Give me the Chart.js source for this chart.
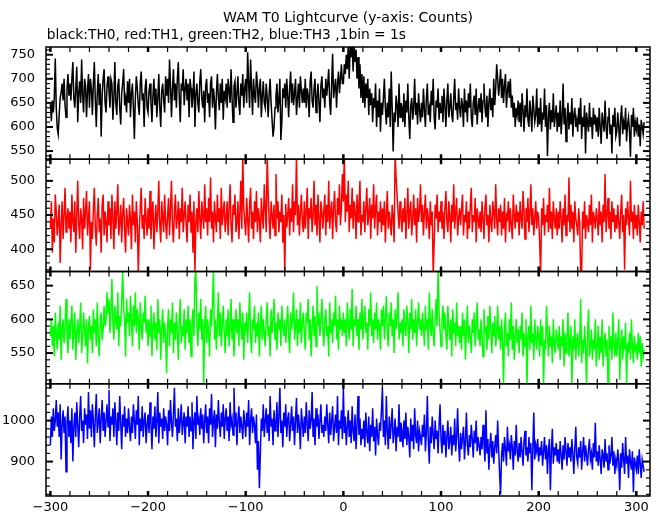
<!DOCTYPE html>
<html><head><meta charset="utf-8">
<script src="https://cdn.jsdelivr.net/npm/chart.js@4.4.1/dist/chart.umd.min.js"></script>
<style>html,body{margin:0;padding:0;background:#fff;}canvas{display:block;}</style>
</head><body>
<canvas id="c" width="661" height="515"></canvas>
<script>
const titleText = 'WAM T0 Lightcurve (y-axis: Counts)';
const subtitleText = 'black:TH0, red:TH1, green:TH2, blue:TH3 ,1bin = 1s';
const timeStart = -300;
const binSize = 1;
const xTicks = [-300, -200, -100, 0, 100, 200, 300];
const yTicksTH0 = [550, 600, 650, 700, 750];
const yTicksTH1 = [400, 450, 500];
const yTicksTH2 = [550, 600, 650];
const yTicksTH3 = [900, 1000];

const th0 = [
648,612,655,630,660,742,640,598,585,625,660,672,690,655,700,645,620,680,710,665,
690,655,700,735,660,640,680,725,610,670,695,650,740,665,630,700,685,620,675,710,
640,700,680,625,690,735,655,600,670,710,645,690,580,665,700,720,650,630,685,705,
675,640,700,690,615,660,735,650,625,685,700,640,605,670,690,720,645,660,630,695,
650,700,620,670,690,640,575,660,705,680,645,625,690,715,655,670,600,680,700,640,
630,675,690,650,610,665,700,645,680,620,660,710,640,600,675,690,655,630,705,665,
700,650,740,685,620,680,720,655,690,640,700,735,660,610,690,675,720,645,680,700,
655,690,620,700,680,640,665,715,600,670,690,650,630,695,720,660,640,675,610,685,
700,650,670,620,690,705,640,680,655,595,670,710,660,635,690,650,700,615,675,660,
690,640,700,675,650,720,660,610,685,695,640,670,705,650,625,690,665,710,640,680,
700,650,755,690,640,740,680,625,700,665,650,715,690,640,680,700,620,665,695,650,
640,690,660,620,670,700,650,615,580,600,640,665,690,630,655,700,573,610,680,660,
690,640,700,665,620,680,715,650,690,645,670,700,625,660,690,640,705,675,650,680,
650,700,640,680,665,620,695,715,655,640,680,700,630,660,690,650,610,685,705,660,
680,640,700,665,690,720,650,625,690,752,660,680,700,640,690,715,670,700,730,690,
690,730,710,750,720,770,700,770,745,770,715,770,735,760,700,745,680,730,660,710,
650,705,640,690,660,700,625,680,645,670,610,660,640,690,600,655,620,680,590,650,
625,660,700,640,605,650,620,680,600,715,640,549,630,610,665,645,600,690,620,650,
640,610,670,600,655,630,690,620,575,645,660,615,640,700,625,650,605,670,635,610,
650,620,680,635,600,660,690,625,640,610,675,645,700,620,595,655,640,680,615,650,
630,665,610,680,645,600,655,690,620,640,670,625,610,660,700,635,650,615,680,640,
620,660,645,600,680,630,655,610,670,640,690,620,600,650,665,625,680,605,640,660,
630,670,610,655,690,640,620,665,600,650,680,635,660,620,700,645,680,730,700,665,
690,720,660,700,650,685,710,640,675,695,660,700,640,665,620,650,600,640,625,655,
610,650,600,670,635,590,645,620,680,615,600,655,630,590,665,640,610,625,680,600,
640,605,660,590,630,615,680,600,645,540,620,650,595,635,610,670,600,625,645,590,
630,600,655,585,620,690,605,640,570,615,650,595,630,605,660,580,625,640,600,615,
590,640,605,660,575,620,600,645,545,630,610,590,650,600,620,575,640,605,625,590,
620,580,640,600,565,630,610,590,655,600,575,620,640,585,605,545,625,600,640,580,
590,630,600,560,620,645,585,610,595,640,570,605,620,590,538,625,600,640,580,610,
595,620,580,605,560,615,600,585,610
];

const th1 = [
430,470,395,445,410,480,455,420,440,465,380,435,470,415,450,490,425,445,460,430,
455,410,480,440,425,470,395,450,500,435,415,460,445,400,475,430,455,485,420,445,
470,370,440,415,460,490,430,405,450,475,425,445,395,465,480,420,455,440,410,470,
435,460,415,480,445,400,470,430,455,495,420,440,465,410,450,475,430,395,460,440,
420,465,445,400,480,435,455,410,470,440,365,425,460,490,430,450,415,475,445,420,
460,430,485,415,450,470,400,440,465,425,455,500,435,410,470,445,425,480,440,415,
450,475,420,460,500,435,410,455,480,430,445,470,415,460,440,490,425,450,470,435,
410,465,440,480,425,455,395,470,366,440,460,425,485,445,415,470,450,430,495,440,
460,420,475,440,505,430,455,410,470,445,425,480,440,460,415,490,435,455,470,425,
445,470,420,460,495,435,410,465,450,480,425,440,470,415,455,500,430,540,460,440,
420,475,445,410,465,490,430,455,415,470,440,485,425,460,445,410,475,450,430,495,
460,425,540,480,440,415,470,450,430,465,420,510,445,470,425,455,440,480,410,450,
366,466,432,450,475,420,460,440,495,425,470,450,540,435,465,420,455,480,440,425,
470,430,455,490,415,460,445,475,425,450,500,435,465,420,480,445,410,470,455,430,
455,480,420,465,440,500,430,455,470,415,460,485,440,425,475,450,495,435,460,510,
470,540,440,480,455,500,425,465,445,490,430,470,455,415,480,440,465,500,420,450,
440,470,425,460,490,435,450,475,415,465,445,495,430,460,480,420,455,440,470,425,
460,435,470,410,450,485,430,455,440,420,465,445,410,540,505,480,455,430,470,445,
425,460,440,475,415,450,490,430,455,470,420,445,480,435,460,410,475,440,455,495,
440,465,420,455,480,430,460,445,415,470,435,455,362,410,465,445,480,425,455,440,
470,430,455,415,460,485,440,425,470,450,410,465,440,495,430,455,475,420,445,460,
435,460,480,420,450,440,470,415,455,430,465,490,425,450,440,475,410,460,445,430,
455,425,470,445,415,460,480,435,450,410,465,440,425,470,455,430,495,445,420,460,
440,465,420,455,430,475,410,450,445,470,425,460,435,415,480,450,430,465,440,455,
420,470,445,430,485,455,415,460,440,475,425,450,495,435,460,420,445,470,430,455,
445,410,362,460,435,475,420,450,440,465,425,490,430,455,415,470,445,430,460,420,
455,430,470,445,410,460,435,480,420,450,440,505,425,465,430,455,410,470,445,435,
420,460,440,362,365,455,430,470,415,450,440,425,465,435,480,410,455,445,430,460,
445,420,470,435,455,410,465,440,510,425,450,475,430,455,415,470,440,460,425,450,
430,465,440,415,455,480,425,450,370,460,435,470,445,420,500,440,455,415,465,430,
450,420,465,440,410,455,435,470,430
];

const th2 = [
575,600,560,590,545,610,580,555,595,570,620,540,585,600,565,590,630,575,550,600,
570,595,620,555,585,610,540,580,600,565,590,625,550,575,610,585,560,600,535,590,
605,570,590,550,615,580,600,560,625,575,545,595,610,570,585,620,590,600,640,610,
630,580,610,660,595,570,620,600,585,640,560,605,590,625,675,615,600,545,630,595,
610,575,635,600,560,620,590,640,580,615,600,555,625,590,570,610,595,635,580,600,
560,600,575,620,545,590,610,570,595,555,630,580,600,540,585,615,565,595,575,520,
590,615,560,600,580,625,550,595,570,610,585,540,600,630,565,590,575,615,555,600,
580,620,565,600,545,595,615,575,660,675,590,560,610,585,630,570,600,505,595,620,
565,600,580,545,615,590,625,675,570,600,555,590,640,575,610,560,595,620,580,550,
600,575,615,560,590,630,570,600,545,585,615,580,600,560,625,590,570,610,540,595,
585,610,565,600,640,575,550,600,585,620,565,595,575,610,545,590,620,570,600,580,
560,600,625,575,590,545,615,580,600,630,570,595,555,610,585,600,560,620,590,575,
600,565,595,620,575,550,610,585,600,640,570,590,615,560,600,580,625,565,595,610,
580,555,610,595,630,570,600,545,590,620,575,605,560,650,590,610,575,600,630,585,
560,600,615,575,590,545,625,580,600,565,610,590,635,570,600,555,620,585,600,575,
610,580,600,560,625,595,570,615,585,645,560,600,590,620,575,600,555,610,585,630,
570,600,620,580,595,555,615,590,640,575,600,565,610,585,625,570,600,590,555,615,
590,620,570,600,635,580,560,610,590,625,575,600,550,615,585,605,640,570,595,580,
600,560,615,590,575,620,595,550,610,585,630,570,600,580,615,560,595,625,585,600,
575,610,590,560,620,585,600,555,640,595,575,615,580,560,600,630,590,675,610,585,
560,600,620,585,610,575,555,620,590,570,600,545,615,580,595,560,625,575,590,565,
590,555,610,575,600,540,585,620,565,590,575,550,600,580,610,560,590,625,570,585,
560,600,575,545,615,580,590,555,605,570,620,585,550,595,575,605,560,580,620,570,
590,555,600,570,500,585,610,560,580,545,600,570,625,555,590,540,575,600,565,585,
550,590,570,610,545,580,560,600,500,575,590,555,620,565,580,540,600,570,555,590,
575,545,600,560,590,502,570,555,620,580,545,590,560,575,535,600,565,550,585,570,
555,590,540,575,560,600,530,580,550,570,610,545,565,590,500,575,555,600,540,570,
580,545,565,630,535,570,550,590,560,500,575,615,545,560,585,540,570,555,600,530,
560,590,540,575,550,600,530,565,580,545,570,500,590,555,575,540,610,560,545,580,
545,570,600,510,560,585,540,575,555,595,500,565,550,580,540,600,560,535,575,555,
560,540,580,550,575,530,565,545,555
];

const th3 = [
940,1010,960,1030,975,1000,1050,985,1020,960,1040,905,990,1025,970,1010,875,995,1035,960,
1000,945,1030,900,985,1020,960,1045,990,935,1010,1060,975,1000,945,1030,990,1015,955,1070,
980,1025,960,1040,1000,935,1010,1065,970,995,1030,945,1005,1050,975,1020,960,1000,1040,985,
1075,950,1010,990,1030,960,1045,1000,940,1020,975,1060,995,930,1015,985,1035,960,1005,970,
1030,985,950,1010,970,1040,1000,955,1025,990,1060,940,1005,975,1035,960,1000,1020,945,990,
1015,970,1045,990,930,1010,980,1035,960,1000,1070,945,1020,985,1005,955,1030,975,1010,990,
940,1025,975,1050,995,960,1015,1080,985,1005,950,1030,970,1000,1040,965,995,1020,945,1010,
985,1035,960,1010,975,1045,930,1000,1020,955,1060,990,1005,965,1030,980,1015,945,1000,1040,
970,1010,945,1030,990,1065,960,1000,1025,935,1015,980,1050,995,960,1020,985,1040,955,1005,
1030,975,1010,950,1045,990,1005,965,1080,985,1020,940,1000,1035,970,1010,985,955,1025,995,
960,1020,985,1050,940,1000,1030,970,1010,990,945,1015,880,950,835,920,1005,975,1040,960,
1000,1030,970,1015,950,1060,985,1005,940,1025,975,990,1045,960,1010,1080,970,1000,935,1020,
985,1040,960,1005,1020,950,990,1035,975,1010,940,1000,1055,970,1015,985,930,1030,995,960,
1010,970,1045,990,950,1025,980,1000,1070,960,1005,940,1030,985,1015,955,1000,1040,970,990,
960,1010,975,1040,990,945,1020,965,1000,1035,950,985,1015,970,1060,940,1000,980,1025,955,
1080,970,1010,940,985,1025,960,1000,945,1035,975,950,1015,930,990,1060,965,1005,940,980,
955,1000,935,1020,970,945,1010,925,990,960,1030,950,985,915,1005,965,940,995,975,1025,
1080,960,1000,940,1060,975,930,1010,955,990,1030,945,970,1005,925,985,960,1040,950,995,
975,935,1000,955,1020,940,985,960,910,1005,950,990,930,1030,965,945,1000,925,975,960,
940,990,960,1015,925,970,1060,950,895,985,945,1010,965,930,1000,955,975,920,990,1040,
955,920,990,940,975,910,960,1000,930,950,985,915,965,940,1005,925,960,1030,945,900,
970,930,960,985,905,950,1020,940,915,965,935,990,955,910,975,945,1000,925,960,940,
915,960,930,990,945,900,1025,920,955,880,940,970,910,950,895,935,965,920,1000,930,
870,820,915,945,900,960,930,890,985,925,940,905,965,935,880,950,915,990,925,900,
945,910,960,925,890,950,975,915,935,900,960,920,945,830,930,1020,905,940,925,955,
900,935,915,950,890,925,960,905,940,870,930,955,830,925,980,895,935,915,945,900,
930,895,950,915,880,940,905,960,925,890,945,910,935,900,955,920,870,930,985,910,
895,935,910,950,880,925,960,900,940,915,890,930,955,905,920,880,945,910,995,900,
925,890,940,905,870,930,915,885,955,900,920,880,940,895,915,960,890,925,870,905,
890,930,900,830,920,885,945,905,870,960,895,915,860,930,900,880,925,825,910,895,
880,915,870,930,895,860,905,890,875
];

const panels = [
  { axis: 'y0', label: 'TH0', data: th0, color: '#000000', min: 533, max: 766, ticks: yTicksTH0, minor: 10 },
  { axis: 'y1', label: 'TH1', data: th1, color: '#ff0000', min: 367.4, max: 531.6, ticks: yTicksTH1, minor: 10 },
  { axis: 'y2', label: 'TH2', data: th2, color: '#00ff00', min: 504.5, max: 671, ticks: yTicksTH2, minor: 10 },
  { axis: 'y3', label: 'TH3', data: th3, color: '#0000ff', min: 816, max: 1090, ticks: yTicksTH3, minor: 20 }
];

const tickFont = { family: 'DejaVu Sans', size: 13 };
const minusFix = v => String(v).replace('-', '\u2212');

const scales = {
  x: {
    type: 'linear', position: 'bottom', min: -304.5, max: 314,
    grid: { display: false, drawTicks: false }, border: { display: false },
    afterBuildTicks: s => { s.ticks = xTicks.map(v => ({ value: v })); },
    afterFit: s => { s.height = 19; },
    ticks: { font: tickFont, color: '#000', padding: 4, maxRotation: 0, autoSkip: false, callback: v => minusFix(v) }
  }
};
// stacked left axes are laid out with the last-defined axis on top, so add them bottom-first
panels.slice().reverse().forEach(p => {
  scales[p.axis] = {
    type: 'linear', position: 'left', stack: 'panels', stackWeight: 1,
    min: p.min, max: p.max,
    grid: { display: false, drawTicks: false }, border: { display: false },
    afterBuildTicks: s => { s.ticks = p.ticks.map(v => ({ value: v })); },
    afterFit: s => { s.width = 46; },
    ticks: { font: tickFont, color: '#000', padding: 11, autoSkip: false, callback: v => minusFix(v) }
  };
});

const panelFrames = {
  id: 'panelFrames',
  beforeDatasetDraw(chart, args) {
    const s = chart.scales[args.meta.yAxisID];
    const a = chart.chartArea;
    const ctx = chart.ctx;
    ctx.save();
    ctx.beginPath();
    ctx.rect(a.left, s.top, a.right - a.left, s.bottom - s.top);
    ctx.clip();
  },
  afterDatasetDraw(chart) { chart.ctx.restore(); },
  afterDraw(chart) {
    const ctx = chart.ctx, a = chart.chartArea, xs = chart.scales.x;
    ctx.save();
    ctx.strokeStyle = '#000';
    const seg = (x1, y1, x2, y2, w) => { ctx.lineWidth = w; ctx.beginPath(); ctx.moveTo(x1, y1); ctx.lineTo(x2, y2); ctx.stroke(); };
    panels.forEach(p => {
      const s = chart.scales[p.axis];
      for (let v = Math.ceil(xs.min / 20) * 20; v <= xs.max; v += 20) {
        const px = xs.getPixelForValue(v);
        const major = v % 100 === 0;
        seg(px, s.top, px, s.top + 5, major ? 2.5 : 1.2);
        seg(px, s.bottom, px, s.bottom - 5, major ? 2.5 : 1.2);
      }
      for (let v = Math.ceil(s.min / p.minor) * p.minor; v <= s.max; v += p.minor) {
        const py = s.getPixelForValue(v);
        const major = p.ticks.includes(v);
        const len = major ? 7 : 4, w = major ? 2 : 1.2;
        seg(a.left, py, a.left + len, py, w);
        seg(a.right, py, a.right - len, py, w);
      }
      ctx.lineWidth = 1.5;
      ctx.strokeRect(a.left, s.top, a.right - a.left, s.bottom - s.top);
    });
    ctx.fillStyle = '#000';
    ctx.textBaseline = 'alphabetic';
    ctx.font = '14px "DejaVu Sans"';
    ctx.textAlign = 'center';
    ctx.fillText(titleText, (a.left + a.right) / 2, 21.7);
    ctx.font = '13.8px "DejaVu Sans"';
    ctx.textAlign = 'left';
    ctx.fillText(subtitleText, a.left + 0.7, 38.5);
    ctx.restore();
  }
};

new Chart(document.getElementById('c'), {
  type: 'line',
  data: {
    datasets: panels.map(p => ({
      label: p.label,
      data: p.data.map((v, i) => ({ x: timeStart + i * binSize, y: v })),
      yAxisID: p.axis,
      borderColor: p.color,
      backgroundColor: p.color,
      borderWidth: 1.5,
      pointRadius: 0,
      tension: 0,
      fill: false
    }))
  },
  options: {
    responsive: false,
    animation: false,
    devicePixelRatio: 1,
    events: [],
    layout: { padding: { top: 47, right: 11, left: 0, bottom: 0 } },
    plugins: { legend: { display: false }, tooltip: { enabled: false }, title: { display: false } },
    scales: scales
  },
  plugins: [panelFrames]
});
</script>
</body></html>
